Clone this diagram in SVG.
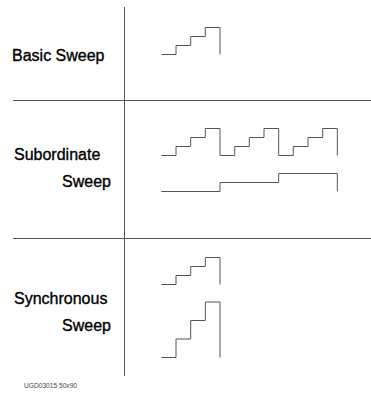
<svg xmlns="http://www.w3.org/2000/svg" width="371" height="393" viewBox="0 0 371 393">
<style>
.ln{fill:none;stroke:#555;stroke-width:1}
.lbl{font-family:"Liberation Sans",Arial,sans-serif;font-size:16px;fill:#000;stroke:#000;stroke-width:0.35}
.ft{font-family:"Liberation Sans",Arial,sans-serif;font-size:7px;fill:#444}
</style>
<rect width="371" height="393" fill="#fff"/>
<g id="grid">
<line class="ln" x1="124.5" y1="7" x2="124.5" y2="376"/>
<line class="ln" x1="13" y1="100.5" x2="371" y2="100.5"/>
<line class="ln" x1="13" y1="238.5" x2="371" y2="238.5"/>
</g>
<g id="basic">
<text class="lbl" x="12" y="61">Basic Sweep</text>
<path class="ln" d="M161.3,54.5H176V45.5H190.7V36.5H205.3V27.5H220V54.5"/>
</g>
<g id="subordinate">
<text class="lbl" x="14" y="160">Subordinate</text>
<text class="lbl" x="111" y="187" text-anchor="end">Sweep</text>
<path class="ln" d="M161.3,155.5H176V146.5H190.7V137.5H205.3V128.5H220V155.5H234.7V146.5H249.3V137.5H264V128.5H278.7V155.5H293.3V146.5H308V137.5H322.7V128.5H337.3V155.5"/>
<path class="ln" d="M161.3,191.5H220V182.5H278.7V173.5H337.3V191.5"/>
</g>
<g id="synchronous">
<text class="lbl" x="14" y="304">Synchronous</text>
<text class="lbl" x="111" y="331" text-anchor="end">Sweep</text>
<path class="ln" d="M161.3,284.5H176V275.5H190.7V266.5H205.3V257.5H220V284.5"/>
<path class="ln" d="M161.3,357.5H176V339H190.7V320.5H205.3V302H220V357.5"/>
</g>
<g id="footer">
<text class="ft" x="24" y="388" textLength="53" lengthAdjust="spacingAndGlyphs">UGD03015 50x90</text>
</g>
</svg>
